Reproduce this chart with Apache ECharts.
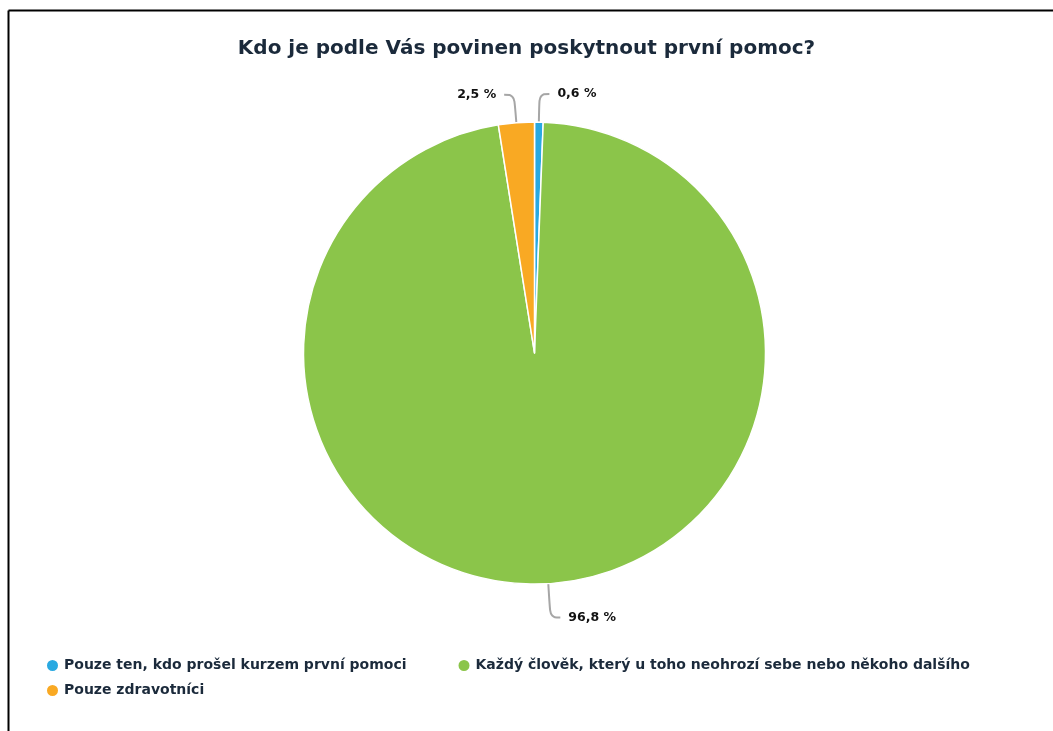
<!DOCTYPE html>
<html>
<head>
<meta charset="utf-8">
<script src="https://cdn.jsdelivr.net/npm/echarts@6/dist/echarts.min.js"></script>
<style>
html,body{margin:0;padding:0;background:#fff;}
#chart{width:1053px;height:731px;}
</style>
</head>
<body>
<div id="chart"></div>
<script>
const titleText = 'Kdo je podle Vás povinen poskytnout první pomoc?';
const categories = [
  'Pouze ten, kdo prošel kurzem první pomoci',
  'Každý člověk, který u toho neohrozí sebe nebo někoho dalšího',
  'Pouze zdravotníci'
];
const values = [0.6, 96.8, 2.5];
const colors = ['#29a9e1', '#8bc54a', '#f9a923'];

const chart = echarts.init(document.getElementById('chart'));
const textColor = '#1b2a3b';
const legendText = { fontFamily: 'DejaVu Sans', fontWeight: 'bold', fontSize: 14, color: textColor };
chart.setOption({
  animation: false,
  backgroundColor: '#ffffff',
  color: colors,
  title: {
    text: titleText,
    left: 'center',
    top: 34,
    textStyle: { fontFamily: 'DejaVu Sans', fontWeight: 'bold', fontSize: 20, color: textColor }
  },
  legend: [{
    left: 40,
    top: 653,
    itemWidth: 13,
    itemHeight: 13,
    itemGap: 50,
    icon: 'circle',
    textStyle: legendText,
    data: categories.slice(0, 2)
  }, {
    left: 40,
    top: 678,
    itemWidth: 13,
    itemHeight: 13,
    icon: 'circle',
    textStyle: legendText,
    data: categories.slice(2)
  }],
  graphic: [
    { type: 'line', shape: { x1: 8.5, y1: 10.5, x2: 1053, y2: 10.5 }, style: { stroke: '#000', lineWidth: 2 } },
    { type: 'line', shape: { x1: 8.5, y1: 10.5, x2: 8.5, y2: 731 }, style: { stroke: '#000', lineWidth: 2 } }
  ],
  series: [{
    type: 'pie',
    center: [534.5, 353],
    radius: 231,
    startAngle: 90,
    clockwise: true,
    itemStyle: { borderColor: '#ffffff', borderWidth: 1.5 },
    label: {
      formatter: p => String(p.value).replace('.', ',') + ' %',
      fontFamily: 'DejaVu Sans',
      fontWeight: 'bold',
      fontSize: 12.5,
      color: '#111',
      distanceToLabelLine: 8
    },
    labelLine: { length: 28, length2: 10, smooth: 0.4, lineStyle: { color: '#a6a6a6', width: 2 } },
    data: categories.map((c, i) => ({
      name: c,
      value: values[i],
      labelLine: i === 1 ? { length: 34 } : undefined
    }))
  }]
});
</script>
</body>
</html>
